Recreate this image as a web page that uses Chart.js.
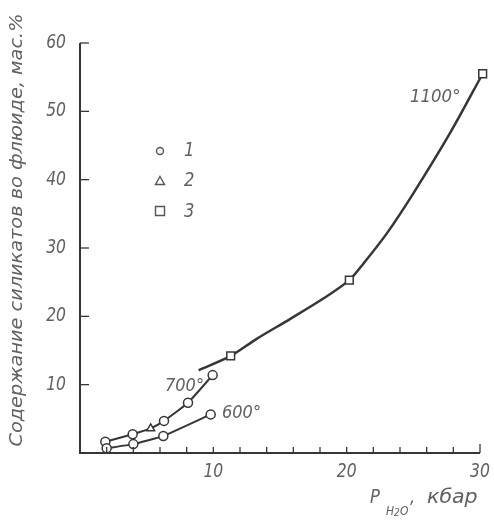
<!DOCTYPE html>
<html>
<head>
<meta charset="utf-8">
<script src="https://cdn.jsdelivr.net/npm/chart.js@4/dist/chart.umd.min.js"></script>
<style>
  html, body { margin: 0; padding: 0; background: #fff; }
  #wrap { width: 494px; height: 522px; }
</style>
</head>
<body>
<div id="wrap"><canvas id="c" width="494" height="522"></canvas></div>
<script>
// Pressure of water (kbar) vs silicate content in fluid (wt.%)
const curve600 = [[2.0, 0.7], [4.0, 1.3], [6.25, 2.5], [9.8, 5.65]];
const curve700 = [[1.9, 1.65], [3.95, 2.75], [5.3, 3.6], [6.3, 4.7], [8.1, 7.35], [9.95, 11.4]];
const styles700 = ['circle', 'circle', 'triangle', 'circle', 'circle', 'circle'];
const curve1100 = [[8.9, 12.1], [11.3, 14.2], [13.25, 16.7], [15.75, 19.6], [18.25, 22.6], [20.2, 25.3],
                   [21.25, 27.7], [23, 32.1], [25, 38.0], [27.75, 46.8], [30.2, 55.5]];
const points1100 = [[11.3, 14.2], [20.2, 25.3], [30.2, 55.5]];
const xTickLabels = [10, 20, 30];
const yTickLabels = [10, 20, 30, 40, 50, 60];
const legendLabels = ['1', '2', '3'];
const isoLabels = ['600°', '700°', '1100°'];
const yTitle = 'Содержание силикатов во флюиде, мас.%';

const FONT = "'DejaVu Sans', sans-serif";
const TXT = '#606060';
const INK = '#363636';
const NARROW = 0.82;

const toXY = a => a.map(p => ({ x: p[0], y: p[1] }));

// draw horizontally condensed italic text
function narrowText(ctx, text, x, y, size, align, sx) {
  ctx.save();
  ctx.font = 'italic ' + size + 'px ' + FONT;
  ctx.translate(x, y);
  ctx.scale(sx || NARROW, 1);
  ctx.textAlign = align || 'left';
  ctx.fillText(text, 0, 0);
  ctx.restore();
}

const axesPlugin = {
  id: 'axesAndNotes',
  afterDraw(chart) {
    const ctx = chart.ctx;
    const xs = chart.scales.x, ys = chart.scales.y;
    const L = xs.left, R = xs.right, T = ys.top, B = ys.bottom;
    ctx.save();
    ctx.strokeStyle = INK;
    ctx.lineWidth = 2;
    ctx.beginPath();
    ctx.moveTo(L, T); ctx.lineTo(L, B); ctx.lineTo(R, B);
    ctx.stroke();
    ctx.lineWidth = 1.3;
    // inward ticks on y
    for (let v = 10; v <= 60; v += 10) {
      const py = ys.getPixelForValue(v);
      ctx.beginPath(); ctx.moveTo(L, py); ctx.lineTo(L + 9, py); ctx.stroke();
    }
    // inward ticks on x every 2 kbar
    for (let v = 2; v <= 30; v += 2) {
      const px = xs.getPixelForValue(v);
      ctx.beginPath(); ctx.moveTo(px, B); ctx.lineTo(px, B - (v === 30 ? 9 : 6)); ctx.stroke();
    }

    ctx.fillStyle = TXT;
    ctx.textBaseline = 'middle';

    // tick labels
    yTickLabels.forEach(v => narrowText(ctx, String(v), L - 14, ys.getPixelForValue(v), 19, 'right'));
    xTickLabels.forEach(v => narrowText(ctx, String(v), xs.getPixelForValue(v), B + 19, 19, 'center'));

    // y axis title, rotated
    ctx.save();
    ctx.font = 'italic 18px ' + FONT;
    const w = ctx.measureText(yTitle).width;
    const target = 433;
    ctx.translate(17, 230);
    ctx.rotate(-Math.PI / 2);
    ctx.scale(target / w, 1);
    ctx.textAlign = 'center';
    ctx.fillText(yTitle, 0, 0);
    ctx.restore();

    // x axis title: P with subscript H2O, kbar
    ctx.textBaseline = 'alphabetic';
    narrowText(ctx, 'P', 370, 503, 20);
    narrowText(ctx, 'H', 386, 515, 13);
    narrowText(ctx, '2', 394, 516, 11);
    narrowText(ctx, 'O', 400, 515, 13);
    narrowText(ctx, ',', 410, 503, 20);
    narrowText(ctx, 'кбар', 427, 503, 19, 'left', 1.08);

    // isotherm labels
    ctx.textBaseline = 'middle';
    narrowText(ctx, isoLabels[0], 222, 413, 18, 'left', 0.9);
    narrowText(ctx, isoLabels[1], 165, 386, 18, 'left', 0.9);
    narrowText(ctx, isoLabels[2], 410, 97, 18, 'left', 0.92);

    // legend
    ctx.strokeStyle = '#555';
    ctx.lineWidth = 1.4;
    ctx.fillStyle = '#fff';
    ctx.beginPath(); ctx.arc(160, 151, 3.5, 0, Math.PI * 2); ctx.fill(); ctx.stroke();
    ctx.beginPath(); ctx.moveTo(160, 176.5); ctx.lineTo(164.5, 184.5); ctx.lineTo(155.5, 184.5); ctx.closePath(); ctx.fill(); ctx.stroke();
    ctx.beginPath(); ctx.rect(155.5, 206.5, 9, 9); ctx.fill(); ctx.stroke();
    ctx.fillStyle = TXT;
    narrowText(ctx, legendLabels[0], 184, 151, 20);
    narrowText(ctx, legendLabels[1], 184, 181, 20);
    narrowText(ctx, legendLabels[2], 184, 212, 20);
    ctx.restore();
  }
};

const markerBase = {
  showLine: true,
  clip: false,
  borderColor: INK,
  pointBackgroundColor: '#fff',
  pointBorderColor: INK,
  pointBorderWidth: 1.5,
};

new Chart(document.getElementById('c'), {
  type: 'scatter',
  data: {
    datasets: [
      Object.assign({}, markerBase, {
        data: toXY(curve600), borderWidth: 2, pointRadius: 4.5, pointStyle: 'circle',
        tension: 0.15, order: 2
      }),
      Object.assign({}, markerBase, {
        data: toXY(curve700), borderWidth: 2, pointRadius: 4.5, pointStyle: styles700,
        tension: 0.15, order: 2
      }),
      {
        data: toXY(curve1100), showLine: true, clip: false, borderColor: INK, borderWidth: 2.5,
        pointRadius: 0, tension: 0.3, order: 3
      },
      {
        data: toXY(points1100), showLine: false, clip: false, pointStyle: 'rect', pointRadius: 5.5,
        pointBackgroundColor: '#fff', pointBorderColor: INK, pointBorderWidth: 1.5, order: 1
      }
    ]
  },
  options: {
    responsive: false,
    animation: false,
    events: [],
    layout: { padding: { top: 43, right: 14, left: 0, bottom: 0 } },
    plugins: { legend: { display: false }, tooltip: { enabled: false } },
    scales: {
      x: {
        type: 'linear', min: 0, max: 30,
        grid: { display: false, drawTicks: false },
        border: { display: false },
        ticks: { display: false },
        afterFit(s) { s.height = 69; }
      },
      y: {
        type: 'linear', min: 0, max: 60,
        grid: { display: false, drawTicks: false },
        border: { display: false },
        ticks: { display: false },
        afterFit(s) { s.width = 80; }
      }
    }
  },
  plugins: [axesPlugin]
});
</script>
</body>
</html>
